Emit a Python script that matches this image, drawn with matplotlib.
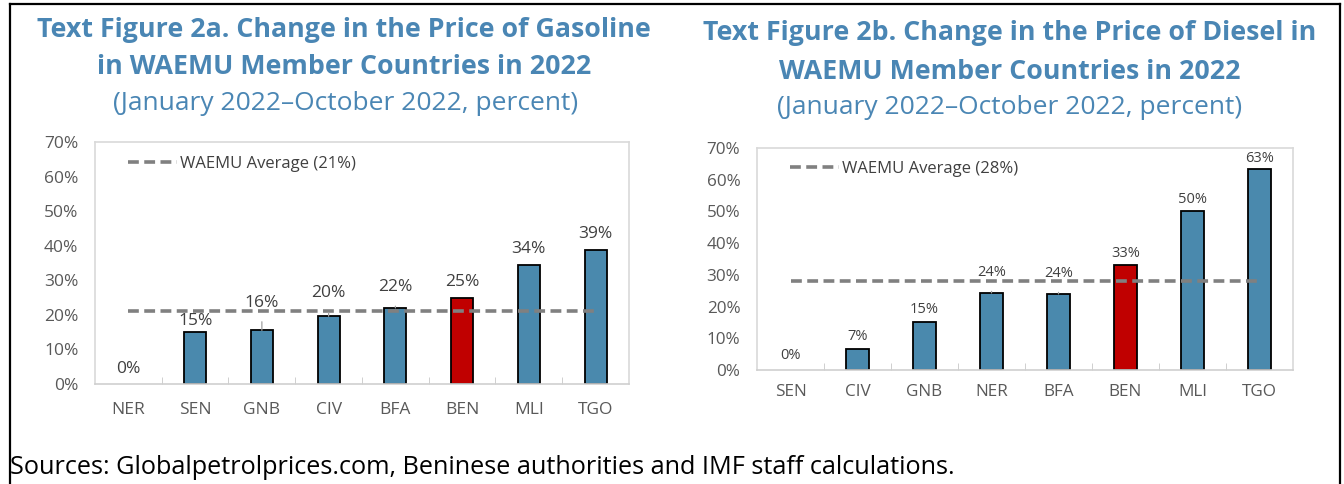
import matplotlib.pyplot as plt
from matplotlib.lines import Line2D

plt.rcParams['font.family'] = ['Open Sans', 'DejaVu Sans']

# Gasoline data (Jan-Oct 2022, percent change)
gas_countries = ['NER', 'SEN', 'GNB', 'CIV', 'BFA', 'BEN', 'MLI', 'TGO']
gas_values = [0.0, 15.0, 15.5, 19.6, 22.0, 25.0, 34.5, 38.7]
gas_labels = ['0%', '15%', '16%', '20%', '22%', '25%', '34%', '39%']
gas_avg = 21.2
gas_avg_label = 'WAEMU Average (21%)'

# Diesel data
dsl_countries = ['SEN', 'CIV', 'GNB', 'NER', 'BFA', 'BEN', 'MLI', 'TGO']
dsl_values = [0.0, 6.6, 15.0, 24.3, 24.0, 33.0, 50.0, 63.5]
dsl_labels = ['0%', '7%', '15%', '24%', '24%', '33%', '50%', '63%']
dsl_avg = 28.0
dsl_avg_label = 'WAEMU Average (28%)'

BLUE = '#4A89AD'
RED = '#C00000'
TITLE_BLUE = '#4A86B4'
GRAY_LINE = '#808080'
FRAME = '#D9D9D9'

W, H = 1344, 484
fig = plt.figure(figsize=(W / 100, H / 100), dpi=100)


def px_axes(x0, y0, x1, y1):
    # pixel box (top-left origin) -> figure axes
    return fig.add_axes([x0 / W, 1 - y1 / H, (x1 - x0) / W, (y1 - y0) / H])


def draw_panel(ax, countries, values, labels, avg, avg_label, offsets,
               tick_size, label_size, xpad):
    x = list(range(len(countries)))
    colors = [RED if c == 'BEN' else BLUE for c in countries]
    edges = [1.3 if v > 0 else 0 for v in values]
    ax.bar(x, values, width=0.33, color=colors, edgecolor='black',
           linewidth=edges, zorder=2)
    ax.plot([x[0], x[-1]], [avg, avg], color=GRAY_LINE, lw=2.6,
            dashes=(3.0, 1.5), zorder=3, label=avg_label)

    for xi, v, lab, off in zip(x, values, labels, offsets):
        if off > 13:
            ax.annotate(lab, xy=(xi, v), xytext=(0, off),
                        textcoords='offset points', ha='center', va='center',
                        fontsize=label_size, color='#404040',
                        arrowprops=dict(arrowstyle='-', color='#A0A0A0',
                                        lw=0.9, shrinkA=6, shrinkB=0))
        else:
            ax.annotate(lab, xy=(xi, v), xytext=(0, off),
                        textcoords='offset points', ha='center', va='center',
                        fontsize=label_size, color='#404040')

    ax.set_xlim(-0.5, len(countries) - 0.5)
    ax.set_ylim(0, 70)
    ax.set_yticks(range(0, 71, 10))
    ax.set_yticklabels([f'{v}%' for v in range(0, 71, 10)])
    ax.set_xticks(x)
    ax.set_xticklabels(countries)
    ax.set_xticks([i + 0.5 for i in x[:-1]], minor=True)
    ax.tick_params(axis='x', which='major', length=0, pad=xpad,
                   labelsize=tick_size, labelcolor='#595959')
    ax.tick_params(axis='x', which='minor', direction='in', length=5,
                   color='#C8C8C8')
    ax.tick_params(axis='y', direction='in', length=0, pad=12,
                   labelsize=tick_size, labelcolor='#595959')
    for s in ax.spines.values():
        s.set_color(FRAME)
        s.set_linewidth(1.2)
    ax.spines['bottom'].set_color('#CFCFCF')

    leg = ax.legend(loc='upper left', frameon=False, fontsize=12,
                    handlelength=2.9, handletextpad=0.2,
                    bbox_to_anchor=(0.05, 0.97), borderaxespad=0)
    for t in leg.get_texts():
        t.set_color('#404040')


# Left panel: gasoline
ax1 = px_axes(95, 142, 629, 384)
draw_panel(ax1, gas_countries, gas_values, gas_labels, gas_avg, gas_avg_label,
           [11, 8, 20, 16.5, 15, 11, 11, 11.5], 12.5, 12.5, 13)

# Right panel: diesel
ax2 = px_axes(757, 148, 1293, 370)
draw_panel(ax2, dsl_countries, dsl_values, dsl_labels, dsl_avg, dsl_avg_label,
           [10.5, 9, 9, 14.5, 14.5, 8.5, 8.5, 7], 12.3, 10.5, 10)

# Titles
TSIZE = 19.3
fig.text(344 / W, 1 - 30 / H, 'Text Figure 2a. Change in the Price of Gasoline',
         ha='center', va='center', fontsize=TSIZE, fontweight='bold',
         color=TITLE_BLUE)
fig.text(344 / W, 1 - 67 / H, 'in WAEMU Member Countries in 2022',
         ha='center', va='center', fontsize=TSIZE, fontweight='bold',
         color=TITLE_BLUE)
fig.text(346 / W, 1 - 103 / H, '(January 2022\u2013October 2022, percent)',
         ha='center', va='center', fontsize=19, color=TITLE_BLUE)

fig.text(1010 / W, 1 - 33 / H, 'Text Figure 2b. Change in the Price of Diesel in',
         ha='center', va='center', fontsize=TSIZE, fontweight='bold',
         color=TITLE_BLUE)
fig.text(1010 / W, 1 - 72 / H, 'WAEMU Member Countries in 2022',
         ha='center', va='center', fontsize=TSIZE, fontweight='bold',
         color=TITLE_BLUE)
fig.text(1010 / W, 1 - 108 / H, '(January 2022\u2013October 2022, percent)',
         ha='center', va='center', fontsize=19, color=TITLE_BLUE)

# Source note
fig.text(10 / W, 1 - 468 / H,
         'Sources: Globalpetrolprices.com, Beninese authorities and IMF staff calculations.',
         ha='left', va='center', fontsize=18.2, color='black')

# Outer frame (open at the bottom)
for xs, ys in [([10, 10], [4, 484]), ([10, 1340], [4, 4]), ([1340, 1340], [4, 484])]:
    fig.add_artist(Line2D([v / W for v in xs], [1 - v / H for v in ys],
                          color='black', lw=1.6))

fig.savefig('out.png', dpi=100)
